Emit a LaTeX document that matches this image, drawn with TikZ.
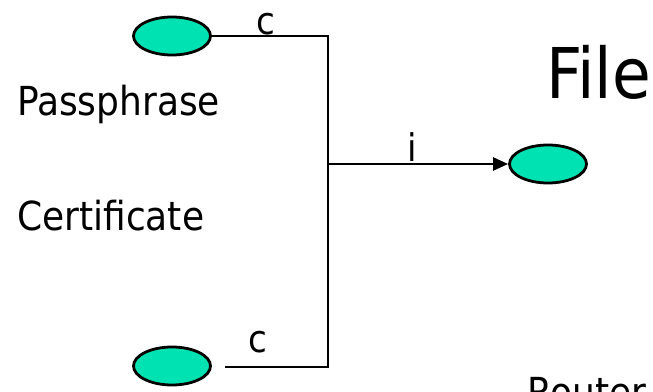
\documentclass[tikz,border=0pt]{standalone}
\usepackage{fontspec}
\setmainfont{DejaVu Sans Condensed}
\usetikzlibrary{arrows.meta,shapes.geometric}
\definecolor{turq}{RGB}{0,226,178}
\tikzset{
  blob/.style={ellipse,draw=black,line width=2.8pt,fill=turq,minimum width=77pt,minimum height=38pt,inner sep=0pt},
  wire/.style={draw=black,line width=2.5pt},
  lbl/.style={font=\fontsize{40}{40}\selectfont,inner sep=0pt,anchor=base west},
  small/.style={font=\fontsize{38}{38}\selectfont,inner sep=0pt,anchor=base}
}
\begin{document}
\begin{tikzpicture}[x=1pt,y=-1pt]
\useasboundingbox (0,0) rectangle (653,391);
\node[blob] (e1) at (172,36) {};
\node[blob] (e2) at (172,366) {};
\node[blob] (e3) at (548,164) {};
\coordinate (j1) at (328,36);
\coordinate (j2) at (328,367);
\coordinate (b0) at (225,367);
\coordinate (m) at (328,164);
\draw[wire,line join=miter] (e1.east) -- (j1) -- (j2) -- (b0);
\draw[wire,-{Triangle[length=15pt,width=13pt]}] (m) -- (e3.west);
\node[small] (c1) at (266,34) {c};
\node[small] (c2) at (258,352) {c};
\node[small] (i1) at (412,161) {i};
\node[lbl] (pp) at (17,115) {Passphrase};
\node[lbl] (ce) at (17,230) {Certificate};
\node[lbl,font=\fontsize{70}{70}\selectfont] (fi) at (546,98) {File};
\node[lbl] (ro) at (527,406) {Router};
\end{tikzpicture}
\end{document}
